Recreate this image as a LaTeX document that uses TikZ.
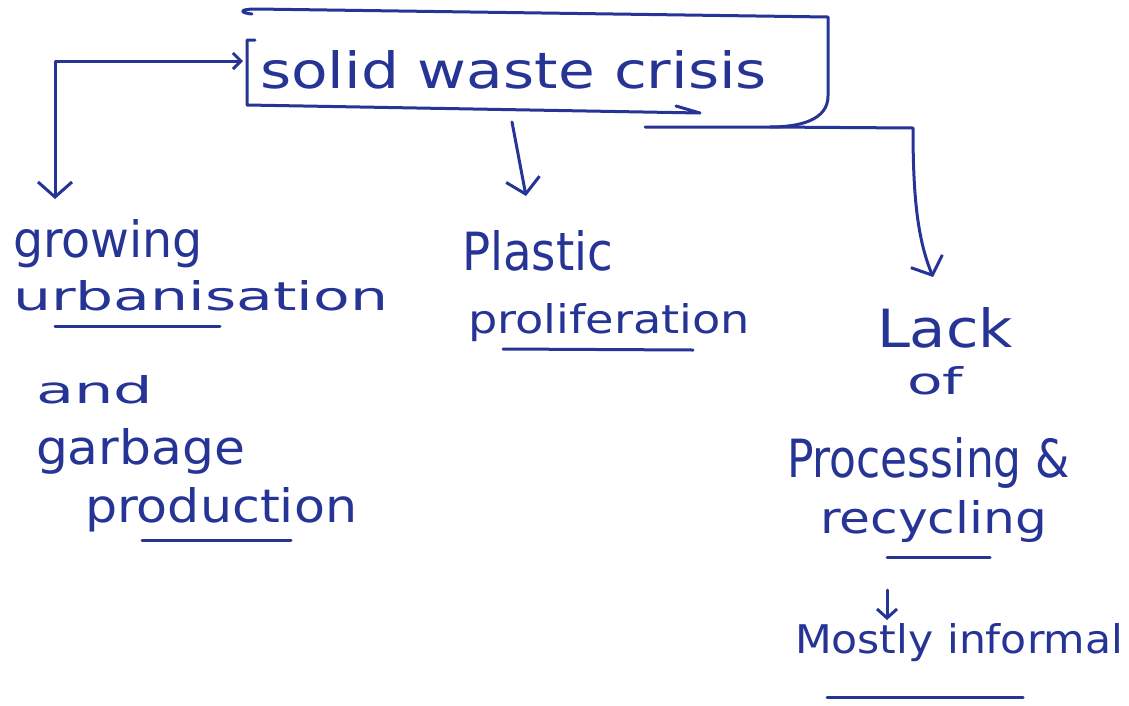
\documentclass[tikz,border=0pt]{standalone}
\usepackage{fontspec}
\usepackage{graphicx}
\setmainfont{DejaVu Sans}
\usetikzlibrary{arrows.meta}
\definecolor{ink}{RGB}{38,52,150}
% hand-lettered label: fixed width and height above the baseline
\newcommand{\hwtext}[3]{\resizebox{#1pt}{#2pt}{#3}}
\tikzset{
  pen/.style={draw=ink, line width=3pt, line cap=round, line join=round},
  barb/.style={-{Straight Barb[length=15pt,width=34pt]}},
  lbl/.style={anchor=base west, inner sep=0pt, outer sep=0pt, text=ink},
}
\begin{document}
\begin{tikzpicture}[x=1pt,y=-1pt]
\useasboundingbox (0,0) rectangle (1129,705);

% title box, drawn freehand
\draw[pen] (255,40) -- (247,40) -- (247,105) -- (700,113) -- (676,106);
\draw[pen] (252,14) .. controls (240,13) and (238,9) .. (256,9) -- (828,17) -- (828,96)
  .. controls (828,120) and (800,127) .. (770,127) -- (645,127);
\node[lbl] (crisis) at (260,88) {\hwtext{507}{38}{solid waste crisis}};
\coordinate (bl) at (243,61);
\coordinate (bb) at (512,122);
\coordinate (br) at (770,127);

% left branch
\node[lbl] (g1) at (13,257) {\hwtext{190}{38}{growing}};
\node[lbl] (g2) at (13,310) {\hwtext{375}{30}{urbanisation}};
\node[lbl] (g3) at (36,403) {\hwtext{117}{28}{and}};
\node[lbl] (g4) at (36,464) {\hwtext{209}{36}{garbage}};
\node[lbl] (g5) at (85,522) {\hwtext{272}{35}{production}};
\draw[pen] (55,326) -- (220,326);
\draw[pen] (142,540) -- (291,540);
\coordinate (lt) at (55,199);
\draw[pen, {Straight Barb[length=8pt,width=16pt]}-{Straight Barb[length=15pt,width=34pt]}]
  (bl) -- (55,61) -- (lt);

% middle branch
\node[lbl] (p1) at (462,270) {\hwtext{151}{40}{Plastic}};
\node[lbl] (p2) at (468,333) {\hwtext{282}{30}{proliferation}};
\draw[pen] (503,349) -- (693,350);
\coordinate (mt) at (526,196);
\draw[pen, barb] (bb) -- (mt);

% right branch
\node[lbl] (r1) at (877,347) {\hwtext{136}{40}{Lack}};
\node[lbl] (r2) at (907,394) {\hwtext{56}{28}{of}};
\node[lbl] (r3) at (787,477) {\hwtext{283}{40}{Processing \&}};
\node[lbl] (r4) at (820,533) {\hwtext{227}{33}{recycling}};
\draw[pen] (887,557) -- (990,557);
\coordinate (rt) at (933,277);
\draw[pen, barb] (br) -- (913,128) .. controls (913,200) and (918,240) .. (rt);

% follow-on
\node[lbl] (m1) at (795,653) {\hwtext{328}{30}{Mostly informal}};
\draw[pen] (827,697) -- (1023,697);
\coordinate (sa) at (887,590);
\draw[pen, -{Straight Barb[length=9pt,width=20pt]}] (sa) -- (887,620);
\end{tikzpicture}
\end{document}
